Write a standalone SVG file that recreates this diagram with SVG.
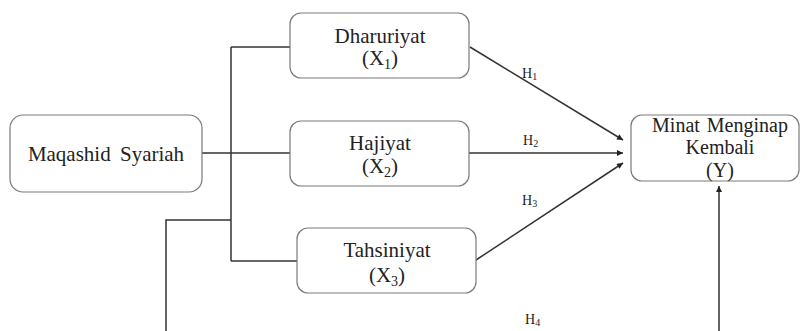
<svg xmlns="http://www.w3.org/2000/svg" width="800" height="331" viewBox="0 0 800 331">
<style>
.box{fill:#fff;stroke:#7a7a7a;stroke-width:1.2}
text{font-family:"Liberation Serif","Times New Roman",serif;fill:#222}
.t{font-size:21px;text-anchor:middle}
.m{font-size:20px}
.sub{font-size:14px}
.h{font-size:14px}
.hs{font-size:10px}
.ln{fill:none;stroke:#333;stroke-width:1.5}
</style>
<defs>
<marker id="arr" viewBox="0 0 10 10" refX="10" refY="5" markerWidth="7" markerHeight="6" markerUnits="userSpaceOnUse" orient="auto">
<path d="M0,0 L10,5 L0,10 z" fill="#222"/>
</marker>
</defs>
<rect width="800" height="331" fill="#fff"/>
<g id="connectors">
<path class="ln" d="M202,153 H290"/>
<path class="ln" d="M231,47 V261"/>
<path class="ln" d="M231,47 H290"/>
<path class="ln" d="M231,261 H297"/>
<path class="ln" d="M231,220 H166 V345 H719 V186" marker-end="url(#arr)"/>
<path class="ln" d="M470,47 L623,140" marker-end="url(#arr)"/>
<path class="ln" d="M469,153 L623,153" marker-end="url(#arr)"/>
<path class="ln" d="M476,260 L623,163" marker-end="url(#arr)"/>
<text class="h" x="522" y="78">H<tspan class="hs" dy="2">1</tspan></text>
<text class="h" x="523" y="145">H<tspan class="hs" dy="2">2</tspan></text>
<text class="h" x="522" y="205">H<tspan class="hs" dy="2">3</tspan></text>
<text class="h" x="525" y="324">H<tspan class="hs" dy="2">4</tspan></text>
</g>
<g id="maqashid" font-family="'Liberation Serif', serif">
<rect class="box" x="10" y="115" width="192" height="77" rx="13"/>
<text class="t" x="106" y="161" word-spacing="4">Maqashid Syariah</text>
</g>
<g id="dharuriyat">
<rect class="box" x="290" y="13" width="179" height="65" rx="11"/>
<text class="t" x="380" y="43">Dharuriyat</text>
<text class="t" x="380" y="65">(X<tspan class="sub" dy="4">1</tspan><tspan dy="-4">)</tspan></text>
</g>
<g id="hajiyat">
<rect class="box" x="290" y="121" width="179" height="65" rx="11"/>
<text class="t" x="380" y="150">Hajiyat</text>
<text class="t" x="380" y="173">(X<tspan class="sub" dy="4">2</tspan><tspan dy="-4">)</tspan></text>
</g>
<g id="tahsiniyat">
<rect class="box" x="297" y="228" width="179" height="65" rx="11"/>
<text class="t" x="387" y="257">Tahsiniyat</text>
<text class="t" x="387" y="282">(X<tspan class="sub" dy="4">3</tspan><tspan dy="-4">)</tspan></text>
</g>
<g id="minat">
<rect class="box" x="631" y="115" width="168" height="66" rx="11"/>
<text class="t m" x="720" y="132" word-spacing="2">Minat Menginap</text>
<text class="t m" x="720" y="154">Kembali</text>
<text class="t m" x="720" y="177">(Y)</text>
</g>
</svg>
